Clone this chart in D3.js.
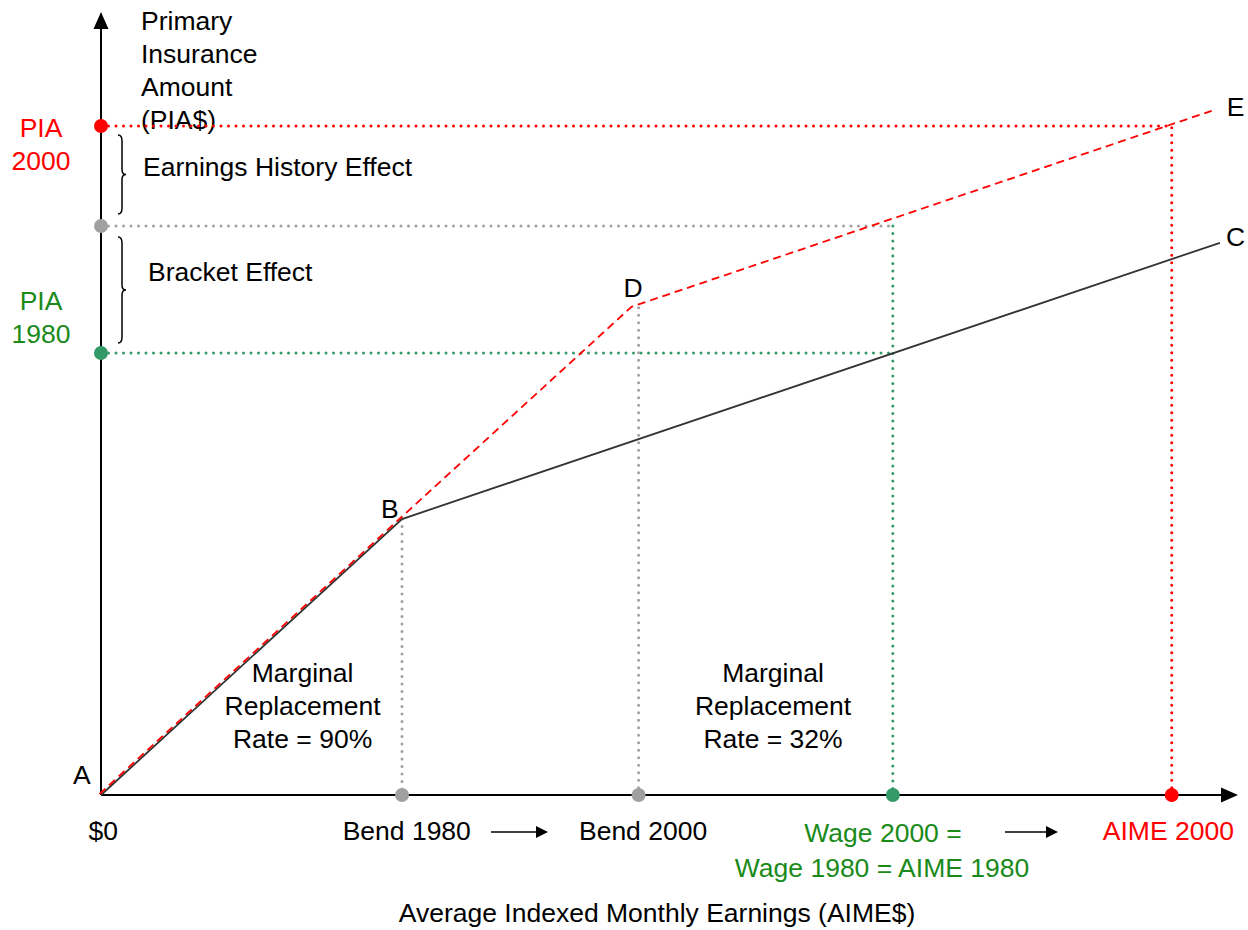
<!DOCTYPE html>
<html lang="en">
<head>
    <meta charset="UTF-8">
    <title>PIA vs AIME</title>
    <style>
        body { margin: 0; background: #fff; }
        text { font-family: "Liberation Sans", Arial, sans-serif; font-size: 26.5px; }
    </style>
</head>
<body>
    <svg id="chart" width="1248" height="930"></svg>
    <script src="https://cdn.jsdelivr.net/npm/d3@7/dist/d3.min.js"></script>
    <script>
        // benefit formula kinks, in AIME / PIA units
        var formula1980 = [[0, 0], [268.75, 246.4], [999, 493]];
        var formula2000 = [[0, 0], [268.75, 246.4], [475, 435], [993, 610]];
        var bendPoints = [268.75, 480];
        var wage = 707;
        var aime2000 = 956;
        var pia1980 = 394.6;
        var piaMid = 508;
        var pia2000 = 597.3;
        var pointLabels = [["A", -17, 10], ["B", 258, 247], ["D", 475, 445], ["E", 1013, 606], ["C", 1013, 490]];
        var xLabels = [["$0", 2], ["Bend 1980", 273], ["Bend 2000", 484], ["AIME 2000", 953]];
        var wageLines = ["Wage 2000 =", "Wage 1980 = AIME 1980"];
        var rateLabels = [[180, ["Marginal", "Replacement", "Rate = 90%"]], [600, ["Marginal", "Replacement", "Rate = 32%"]]];
        var yTitle = ["Primary", "Insurance", "Amount", "(PIA$)"];
        var piaLabels = [["PIA", "2000", 136.5], ["PIA", "1980", 310]];

        var red = "#ff0000", green = "#1a8a1a", greenDot = "#339966", gray = "#a0a0a0";

        var x = d3.scaleLinear().domain([0, 1000]).range([101, 1221]);
        var y = d3.scaleLinear().domain([0, 700]).range([795, 11]);

        var svg = d3.select("#chart");
        var line = d3.line().x(d => x(d[0])).y(d => y(d[1]));

        function dotted(g, pts, color) {
            g.append("path")
                .attr("d", line(pts))
                .attr("fill", "none")
                .attr("stroke", color)
                .attr("stroke-width", 3)
                .attr("stroke-linecap", "round")
                .attr("stroke-dasharray", "0,7.5");
        }

        // text labels first, lines go over them
        svg.append("g").selectAll("text")
            .data(yTitle)
            .join("text")
            .attr("x", 141)
            .attr("y", (d, i) => 29.5 + i * 33)
            .text(d => d);

        svg.append("text").attr("x", 143).attr("y", 175.5).text("Earnings History Effect");
        svg.append("text").attr("x", 148).attr("y", 281).text("Bracket Effect");

        piaLabels.forEach(function (p, i) {
            var t = svg.append("text").attr("fill", i === 0 ? red : green).attr("text-anchor", "middle");
            t.append("tspan").attr("x", 41).attr("y", p[2]).text(p[0]);
            t.append("tspan").attr("x", 41).attr("y", p[2] + 33).text(p[1]);
        });

        svg.append("g").selectAll("text")
            .data(pointLabels)
            .join("text")
            .attr("x", d => x(d[1]))
            .attr("y", d => y(d[2]))
            .attr("text-anchor", "middle")
            .text(d => d[0]);

        var guides = svg.append("g");
        dotted(guides, [[0, pia2000], [aime2000, pia2000], [aime2000, 0]], red);
        dotted(guides, [[0, piaMid], [wage, piaMid]], gray);
        dotted(guides, [[0, pia1980], [wage, pia1980]], greenDot);
        dotted(guides, [[wage, piaMid], [wage, 0]], greenDot);
        bendPoints.forEach(function (b, i) {
            var top = i === 0 ? formula1980[1][1] : formula2000[2][1];
            dotted(guides, [[b, top], [b, 0]], gray);
        });

        // axes
        svg.append("line")
            .attr("x1", x(0)).attr("x2", x(0))
            .attr("y1", y(0)).attr("y2", 26)
            .attr("stroke", "#000").attr("stroke-width", 2);
        svg.append("path")
            .attr("d", `M${x(0)},12 L${x(0) - 7.5},29 L${x(0) + 7.5},29 Z`)
            .attr("fill", "#000");
        svg.append("line")
            .attr("x1", x(0)).attr("x2", 1224)
            .attr("y1", y(0)).attr("y2", y(0))
            .attr("stroke", "#000").attr("stroke-width", 2);
        svg.append("path")
            .attr("d", `M1238,${y(0)} L1221,${y(0) - 7.5} L1221,${y(0) + 7.5} Z`)
            .attr("fill", "#000");

        // formula lines
        svg.append("path")
            .attr("d", line(formula1980))
            .attr("fill", "none")
            .attr("stroke", "#333")
            .attr("stroke-width", 1.8);
        svg.append("path")
            .attr("d", line(formula2000))
            .attr("transform", "translate(-1.5,-1)")
            .attr("fill", "none")
            .attr("stroke", red)
            .attr("stroke-width", 1.8)
            .attr("stroke-dasharray", "8,5");

        // dots
        var dots = [[0, pia2000, red], [0, piaMid, gray], [0, pia1980, greenDot],
                    [bendPoints[0], 0, gray], [bendPoints[1], 0, gray], [wage, 0, greenDot], [aime2000, 0, red]];
        svg.append("g").selectAll("circle")
            .data(dots)
            .join("circle")
            .attr("cx", d => x(d[0]))
            .attr("cy", d => y(d[1]))
            .attr("r", 7)
            .attr("fill", d => d[2]);

        // braces
        function brace(y0, y1) {
            var x0 = 118, xm = 122, xt = 126, m = (y0 + y1) / 2;
            return `M${x0},${y0} Q${xm},${y0} ${xm},${y0 + 6} L${xm},${m - 5} Q${xm},${m} ${xt},${m}` +
                   ` Q${xm},${m} ${xm},${m + 5} L${xm},${y1 - 6} Q${xm},${y1} ${x0},${y1}`;
        }
        [[135, 214], [237, 343]].forEach(function (b) {
            svg.append("path")
                .attr("d", brace(b[0], b[1]))
                .attr("fill", "none")
                .attr("stroke", "#000")
                .attr("stroke-width", 1.5);
        });

        rateLabels.forEach(function (r) {
            svg.append("g").selectAll("text")
                .data(r[1])
                .join("text")
                .attr("x", x(r[0]))
                .attr("y", (d, i) => 682 + i * 33)
                .attr("text-anchor", "middle")
                .text(d => d);
        });

        svg.append("g").selectAll("text")
            .data(xLabels)
            .join("text")
            .attr("x", d => x(d[1]))
            .attr("y", 839.5)
            .attr("text-anchor", "middle")
            .attr("fill", d => d[0] === "AIME 2000" ? red : "#000")
            .text(d => d[0]);

        svg.append("g").selectAll("text")
            .data(wageLines)
            .join("text")
            .attr("x", (d, i) => i === 0 ? 883 : 882)
            .attr("y", (d, i) => 842 + i * 35)
            .attr("text-anchor", "middle")
            .attr("fill", green)
            .text(d => d);

        // small arrows between labels
        [[491, 548], [1005, 1058]].forEach(function (a) {
            svg.append("line")
                .attr("x1", a[0]).attr("x2", a[1] - 10)
                .attr("y1", 832).attr("y2", 832)
                .attr("stroke", "#000").attr("stroke-width", 1.5);
            svg.append("path")
                .attr("d", `M${a[1]},832 L${a[1] - 12},826 L${a[1] - 12},838 Z`)
                .attr("fill", "#000");
        });

        svg.append("text")
            .attr("x", 657)
            .attr("y", 922)
            .attr("text-anchor", "middle")
            .text("Average Indexed Monthly Earnings (AIME$)");
    </script>
</body>
</html>
